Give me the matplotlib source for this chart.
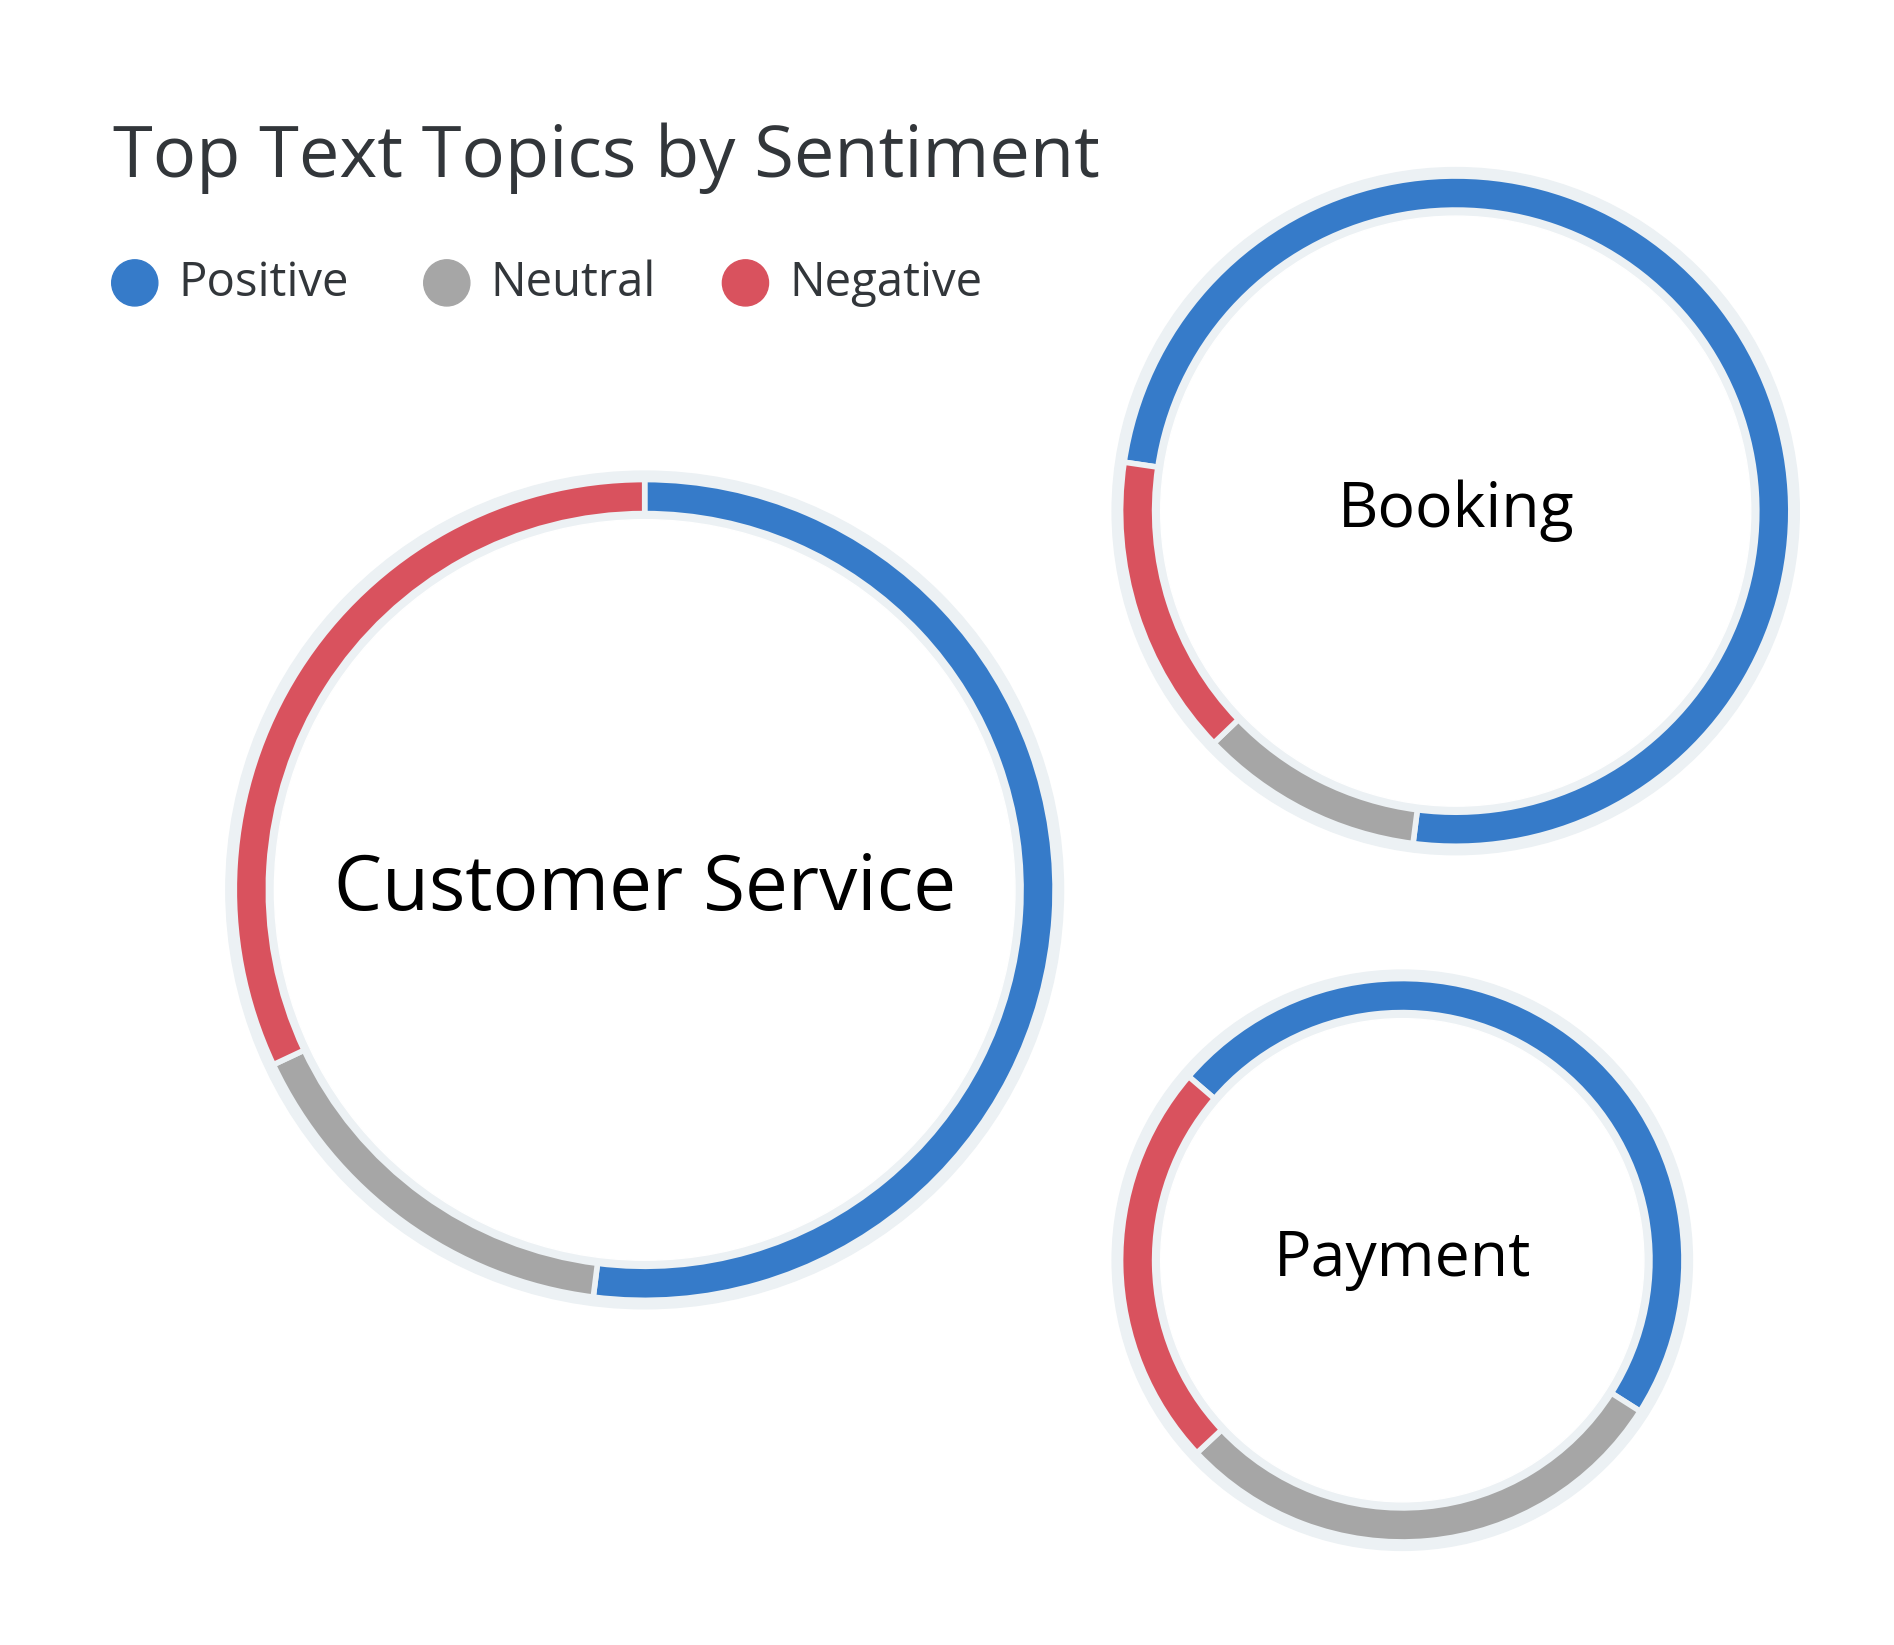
import matplotlib
matplotlib.use("Agg")
import matplotlib.pyplot as plt
from matplotlib.patches import Wedge, Circle

W, H = 1894, 1645
S = 1894 / 1560

topics = ["Customer Service", "Booking", "Payment"]
positive = [52.0, 74.7, 47.7]
neutral = [16.0, 10.8, 29.0]
negative = [32.0, 14.5, 23.3]
sentiments = ["Positive", "Neutral", "Negative"]
colors = ["#367bc9", "#a6a6a6", "#d9525e"]

# layout (display px of reference), start angle clockwise from top
centers = [(531, 733), (1199, 421), (1155, 1038)]
radii = [338, 276, 232]
starts = [0.0, 278.4, 310.7]
label_sizes = [55, 45, 45]

fig = plt.figure(figsize=(W / 100, H / 100), dpi=100)
ax = fig.add_axes([0, 0, 1, 1])
ax.set_xlim(0, W)
ax.set_ylim(0, H)
ax.set_aspect("equal")
ax.axis("off")

ring = 28 * S
for i, t in enumerate(topics):
    cx, cy = centers[i][0] * S, H - centers[i][1] * S
    r = radii[i] * S
    ax.add_patch(Circle((cx, cy), r + 7 * S, color="#ecf1f4", zorder=1))
    ax.add_patch(Circle((cx, cy), r - ring - 5 * S, color="white", zorder=2))
    c = starts[i]
    for v, col in zip([positive[i], neutral[i], negative[i]], colors):
        span = v / 100 * 360
        ax.add_patch(Wedge((cx, cy), r, 90 - (c + span), 90 - c, width=ring,
                           facecolor=col, edgecolor="#ecf1f4", linewidth=4, zorder=3))
        c += span
    ax.text(cx, cy, t, ha="center", va="center", fontsize=label_sizes[i],
            color="black", fontfamily="Open Sans", zorder=4)

ax.text(93 * S, H - 130 * S, "Top Text Topics by Sentiment", fontsize=52,
        color="#32363a", va="center", ha="left", fontfamily="Open Sans")
lx = [111, 368, 614]
for x, lab, col in zip(lx, sentiments, colors):
    ax.add_patch(Circle((x * S, H - 233 * S), 19 * S, color=col))
    ax.text((x + 36) * S, H - 233 * S, lab, fontsize=34, color="#32363a",
            va="center", ha="left", fontfamily="Open Sans")

fig.savefig("out.png", dpi=100, facecolor="white")
